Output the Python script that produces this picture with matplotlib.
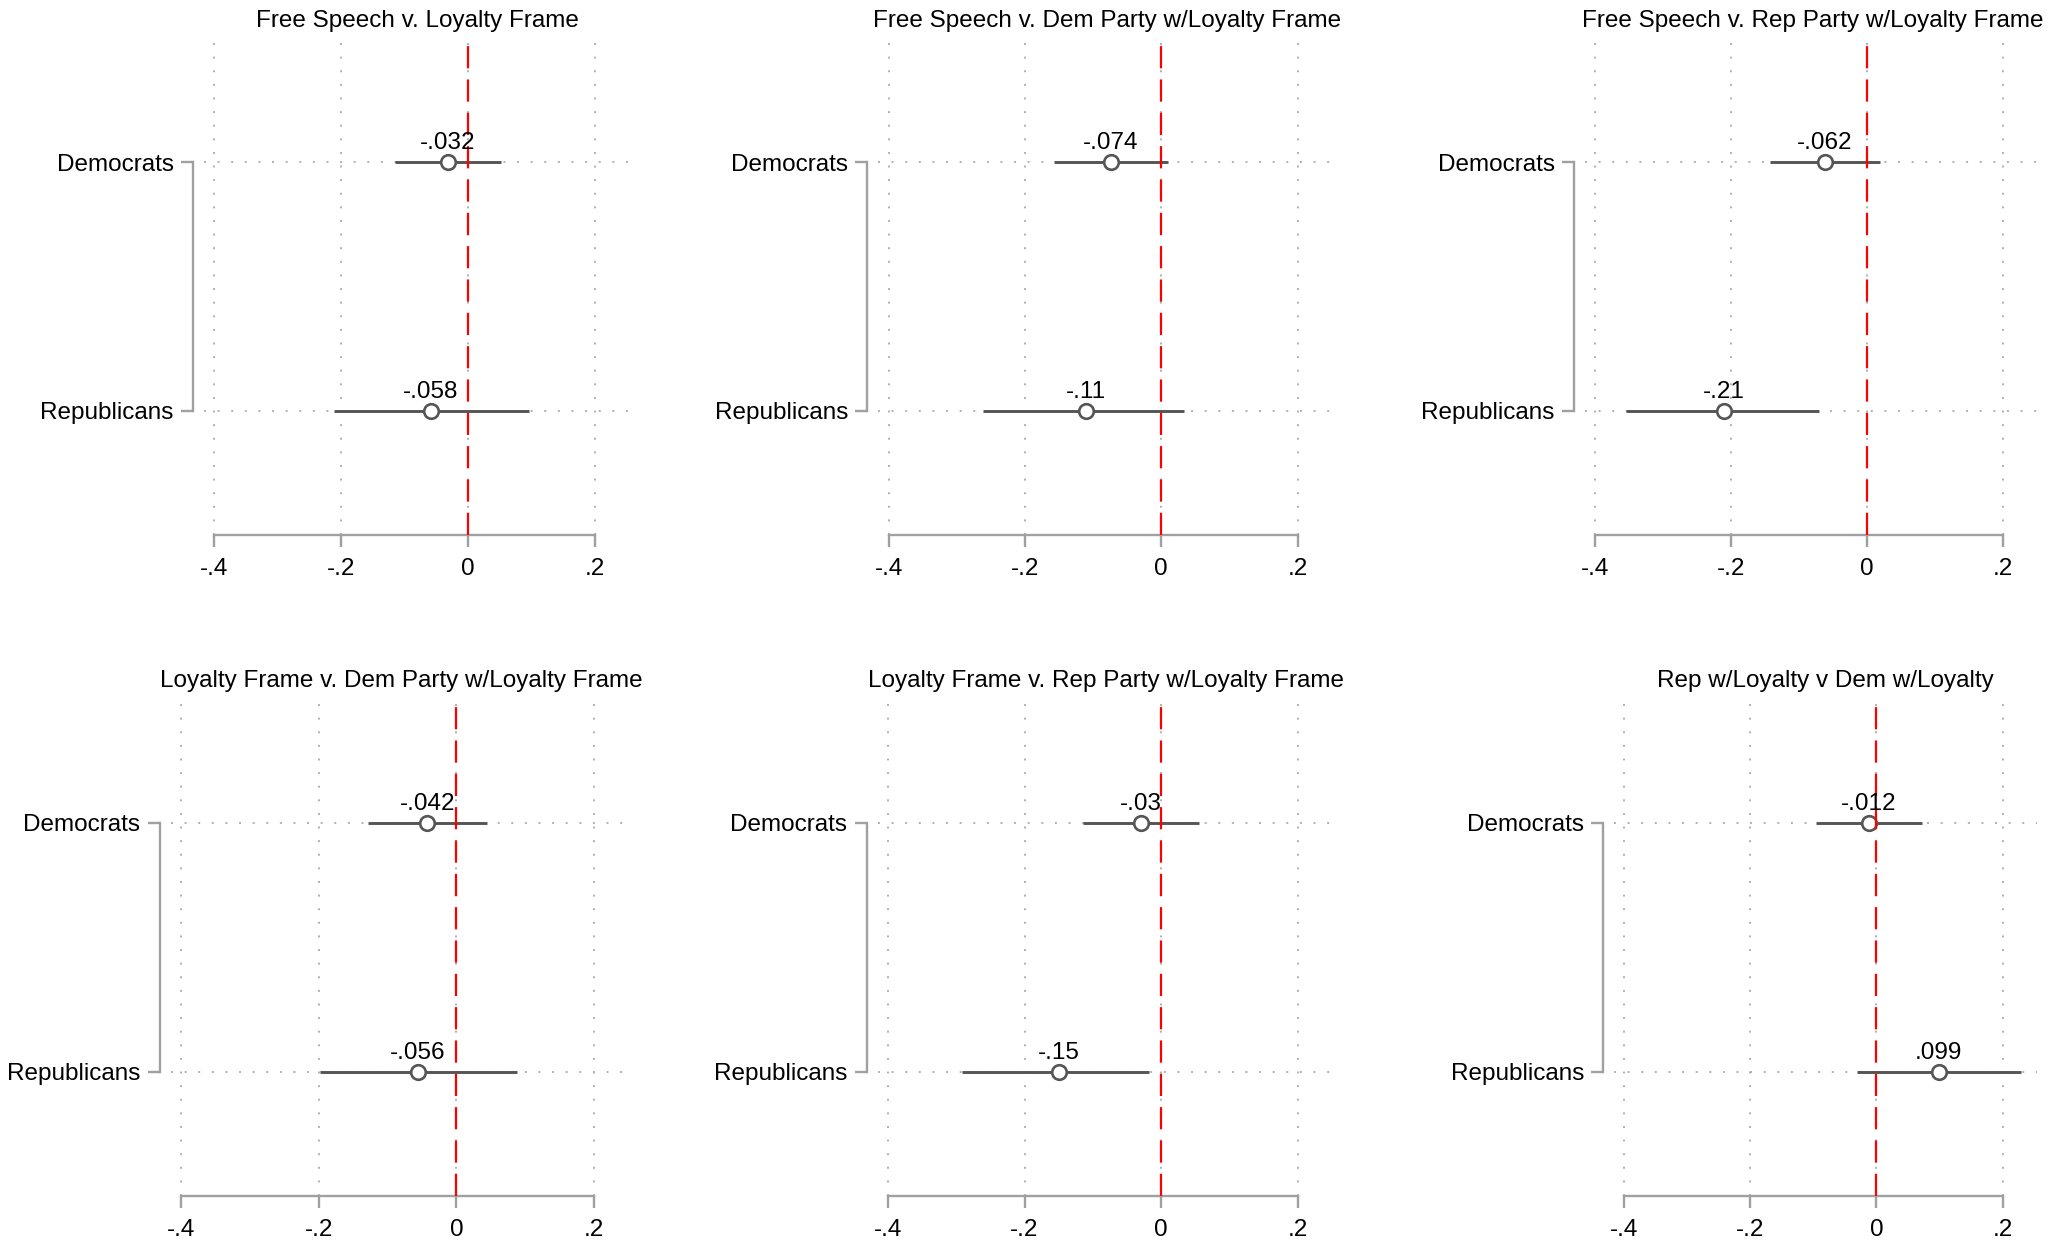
import matplotlib
matplotlib.use("Agg")
import matplotlib.pyplot as plt

plt.rcParams['font.family'] = ['Liberation Sans', 'DejaVu Sans']

# panel titles, left-to-right, top-to-bottom
titles = [
    "Free Speech v. Loyalty Frame",
    "Free Speech v. Dem Party w/Loyalty Frame",
    "Free Speech v. Rep Party w/Loyalty Frame",
    "Loyalty Frame v. Dem Party w/Loyalty Frame",
    "Loyalty Frame v. Rep Party w/Loyalty Frame",
    "Rep w/Loyalty v Dem w/Loyalty",
]
groups = ["Democrats", "Republicans"]

# point estimates [Dem, Rep] per panel
est = [
    [-0.032, -0.058],
    [-0.074, -0.11],
    [-0.062, -0.21],
    [-0.042, -0.056],
    [-0.03, -0.15],
    [-0.012, 0.099],
]
# confidence interval bounds [Dem, Rep] per panel
ci_lo = [
    [-0.114, -0.211],
    [-0.157, -0.261],
    [-0.142, -0.354],
    [-0.129, -0.198],
    [-0.114, -0.291],
    [-0.096, -0.030],
]
ci_hi = [
    [0.052, 0.096],
    [0.010, 0.033],
    [0.019, -0.071],
    [0.045, 0.088],
    [0.055, -0.018],
    [0.072, 0.229],
]

xticks = [-0.4, -0.2, 0, 0.2]
xtick_labels = ["-.4", "-.2", "0", ".2"]

W, H = 2055, 1248
# pixel positions of the -.4 and .2 ticks per panel, and row extents (top, bottom)
tick_px = [(213.6, 595.0), (888.6, 1297.5), (1595.0, 2002.6),
           (181.0, 594.0), (888.0, 1297.5), (1623.8, 2002.6)]
rows = [(38, 535), (698, 1196)]
xmin, xmax = -0.415, 0.255

gray = '#a0a0a0'
dark = '#555555'


def fmt(v):
    s = f"{v:.2g}"
    return s.replace("0.", ".", 1)


fig = plt.figure(figsize=(W / 100, H / 100), dpi=100)

for i in range(6):
    m4, p2 = tick_px[i]
    top, bot = rows[i // 3]
    s = (p2 - m4) / 0.6
    left = m4 - (xmin + 0.4) * -s
    right = p2 + (xmax - 0.2) * s
    ax = fig.add_axes([left / W, 1 - bot / H, (right - left) / W, (bot - top) / H])
    ax.set_xlim(xmin, xmax)
    ax.set_ylim(1.5, -0.5)

    ypos = list(range(len(groups)))
    ax.hlines(ypos, ci_lo[i], ci_hi[i], color=dark, lw=2.1, zorder=3)
    ax.plot(est[i], ypos, 'o', ms=10.5, mfc='white', mec=dark, mew=1.9,
            linestyle='none', zorder=4)
    ax.axvline(0, color='#ff0000', lw=1.6, linestyle=(0, (10, 5)), zorder=5)
    for v, y in zip(est[i], ypos):
        ax.annotate(fmt(v), (v, y), xytext=(0, 9.2), textcoords='offset points',
                    ha='center', va='baseline', fontsize=17.5, zorder=6)

    ax.set_xticks(xticks)
    ax.set_xticklabels(xtick_labels)
    ax.set_yticks(ypos)
    ax.set_yticklabels(groups)
    ax.grid(True, color='#b0b0b0', lw=1.4, linestyle=(0, (1, 6)), zorder=1)

    for sp in ['top', 'right']:
        ax.spines[sp].set_visible(False)
    ax.spines['left'].set_position(('outward', 8))
    ax.spines['left'].set_bounds(0, 1)
    ax.spines['bottom'].set_bounds(-0.4, 0.2)
    for sp in ['left', 'bottom']:
        ax.spines[sp].set_color(gray)
        ax.spines[sp].set_linewidth(1.7)
    ax.tick_params(axis='both', direction='out', length=8.8, width=1.7,
                   color=gray, labelsize=17.5)
    ax.tick_params(axis='x', pad=7.5)
    ax.tick_params(axis='y', pad=5)
    ax.set_title(titles[i], fontsize=17.5, pad=8)

fig.savefig("out.png", dpi=100)
